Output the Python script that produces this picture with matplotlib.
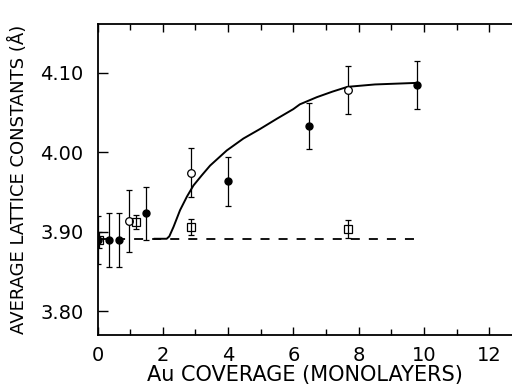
import matplotlib
matplotlib.use("Agg")
import matplotlib.pyplot as plt
from matplotlib.ticker import MultipleLocator, FixedLocator

# Filled circles
filled_x = [0.0, 0.35, 0.65, 1.5, 3.99, 6.49, 9.79]
filled_y = [3.889, 3.889, 3.889, 3.923, 3.963, 4.033, 4.084]
filled_err = [0.03, 0.034, 0.034, 0.033, 0.031, 0.029, 0.030]

# Open circles
open_x = [0.97, 2.87, 7.66]
open_y = [3.913, 3.974, 4.078]
open_err = [0.039, 0.031, 0.030]

# Open squares
sq_x = [0.05, 1.19, 2.88, 7.66]
sq_y = [3.890, 3.912, 3.906, 3.903]
sq_err = [0.010, 0.009, 0.010, 0.011]

# Solid curve
curve_x = [1.75, 2.12, 2.2, 2.33, 2.53, 2.74, 2.94, 3.2, 3.45, 3.96, 4.47, 4.98, 5.5, 6.0, 6.2, 6.72, 7.2, 7.66, 8.5, 9.8]
curve_y = [3.891, 3.891, 3.894, 3.906, 3.927, 3.944, 3.958, 3.971, 3.983, 4.002, 4.017, 4.029, 4.042, 4.054, 4.060, 4.069, 4.076, 4.082, 4.085, 4.087]

# Dashed baseline
dash_x = [0.0, 9.95]
dash_y = [3.891, 3.891]

xticks = [0, 2, 4, 6, 8, 10, 12]
yticks = [3.80, 3.90, 4.00, 4.10]
ytick_labels = ["3.80", "3.90", "4.00", "4.10"]

fig = plt.figure(figsize=(5.12, 3.88), dpi=100)
ax = fig.add_axes([97.5/512, 1-335/388, 1-97.5/512, (335-24)/388])
ax.set_xlim(0, 12.7)
ax.set_ylim(3.770, 4.161)

ax.plot(dash_x, dash_y, color="black", lw=1.3, linestyle=(0, (5, 5)))
ax.plot(curve_x, curve_y, color="black", lw=1.4)

ekw = dict(ecolor="black", elinewidth=0.9, capsize=2.5, capthick=0.9, linestyle="none")
ax.errorbar(filled_x, filled_y, yerr=filled_err, fmt="o", mfc="black", mec="black", ms=5, **ekw)
ax.errorbar(open_x, open_y, yerr=open_err, fmt="o", mfc="white", mec="black", mew=0.9, ms=5.5, **ekw)
ax.errorbar(sq_x, sq_y, yerr=sq_err, fmt="s", mfc="none", mec="black", mew=0.9, ms=6, **ekw)

ax.spines["right"].set_visible(False)
for s in ["left", "bottom", "top"]:
    ax.spines[s].set_linewidth(1.3)

ax.xaxis.set_major_locator(FixedLocator(xticks))
ax.xaxis.set_minor_locator(MultipleLocator(1))
ax.yaxis.set_major_locator(FixedLocator(yticks))
ax.set_yticklabels(ytick_labels)
ax.tick_params(axis="x", which="both", direction="in", top=True, bottom=True, width=1)
ax.tick_params(axis="x", which="major", length=6, labelsize=14, pad=8)
ax.tick_params(axis="x", which="minor", length=4)
ax.tick_params(axis="y", which="major", direction="in", length=7, width=1, left=True, right=False, labelsize=14, pad=10)

ax.set_xlabel("Au COVERAGE (MONOLAYERS)", fontsize=15, labelpad=0)
ax.set_ylabel("AVERAGE LATTICE CONSTANTS (Å)", fontsize=13, labelpad=9)

fig.savefig("out.png", dpi=100)
